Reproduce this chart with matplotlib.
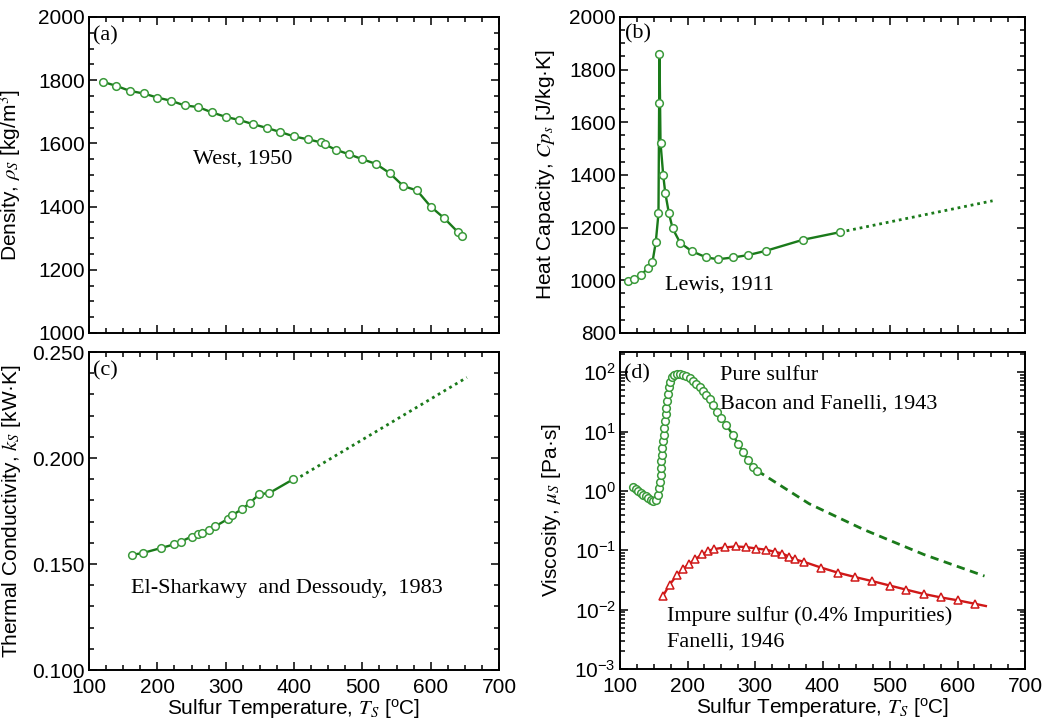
import numpy as np
import matplotlib
matplotlib.use("Agg")
import matplotlib.pyplot as plt
from matplotlib.ticker import MultipleLocator, LogLocator, FuncFormatter, NullFormatter

# ==========================
# 1. Data
# ==========================
# (a) density, West 1950
dens_T = [120, 140, 160, 180, 200, 220, 240, 260, 280, 300, 320, 340, 360, 380, 400,
          420, 440, 445, 461, 480, 500, 520, 540, 560, 580, 600, 620, 640, 646]
dens_rho = [1795, 1782, 1766, 1758, 1745, 1735, 1720, 1715, 1698, 1684, 1674, 1661, 1649,
            1636, 1622, 1613, 1603, 1597, 1580, 1566, 1550, 1535, 1506, 1465, 1451, 1400,
            1363, 1319, 1307]

# (b) heat capacity, Lewis 1911
cp_T = [112, 120, 131, 141, 148, 153, 157, 158, 158.5, 160, 164, 167, 172.5, 178, 189,
        206, 228, 245, 268, 290, 316, 371, 426]
cp_val = [996, 1005, 1020, 1045, 1068, 1145, 1254, 1672, 1861, 1523, 1400, 1333, 1254,
          1197, 1143, 1111, 1087, 1080, 1087, 1096, 1112, 1154, 1183]
cp_ext_T = [426, 652]
cp_ext_val = [1183, 1302]

# (c) thermal conductivity, El-Sharkawy and Dessoudy 1983
k_T = [163, 179, 205, 224, 234, 250, 259, 265, 275, 285, 304, 309, 324, 335, 349, 364, 399]
k_val = [0.1543, 0.1552, 0.1575, 0.1592, 0.1605, 0.1629, 0.1640, 0.1648, 0.1662, 0.1678,
         0.1714, 0.1729, 0.1759, 0.1787, 0.1829, 0.1835, 0.1900]
k_ext_T = [401, 653]
k_ext_val = [0.1896, 0.2380]

# (d) viscosity, pure sulfur (Bacon and Fanelli 1943)
pure_T = [119.7, 123.7, 127.1, 130.6, 134.5, 138.5, 141.9, 145.4, 149.3, 153.3, 156.7,
          158.2, 159.2, 160.2, 160.6, 161.1, 161.6, 162.6, 163.6, 164.6, 165.6, 166.6,
          167.6, 168.6, 169.5, 170.5, 172.0, 174.0, 176.4, 179.9, 183.8, 188.7, 193.6,
          198.5, 203.5, 208.4, 213.3, 218.2, 223.2, 228.1, 233.1, 238.0, 243.9, 250.3,
          257.7, 267.5, 274.9, 282.3, 289.7, 297.1, 303.0]
pure_mu = [1.17, 1.06, 0.98, 0.93, 0.87, 0.81, 0.76, 0.71, 0.68, 0.71, 0.85,
           1.10, 1.43, 1.86, 2.41, 3.13, 4.07, 5.27, 6.85, 8.91, 11.6, 15.0,
           19.5, 25.4, 33.0, 42.9, 55.5, 69.5, 82.2, 90.0, 93.0, 93.0, 91.0,
           85.5, 79.1, 72.3, 63.4, 55.5, 48.8, 41.7, 35.2, 27.9, 21.4, 17.1,
           12.9, 8.59, 6.27, 4.46, 3.26, 2.51, 2.20]
pure_ext_T = [303, 380, 460, 550, 640]
pure_ext_mu = [2.20, 0.61, 0.226, 0.085, 0.0368]

# (d) viscosity, impure sulfur (Fanelli 1946)
imp_T = [164, 173.5, 184.3, 193, 202.6, 211.4, 221.8, 230.7, 239.1, 255.3, 271.6, 287.4,
         302.2, 317.0, 329.3, 340.7, 350.5, 358.9, 372.7, 398.3, 423.0, 448.6, 473.8,
         499.4, 524.1, 549.7, 574.9, 600.5, 625.6]
imp_mu = [0.0173, 0.0263, 0.038, 0.048, 0.059, 0.071, 0.085, 0.098, 0.1045, 0.1117, 0.116,
          0.113, 0.107, 0.102, 0.094, 0.088, 0.078, 0.0705, 0.0637, 0.0509, 0.0419, 0.0353,
          0.0302, 0.0255, 0.0217, 0.0184, 0.0161, 0.01435, 0.01256]
imp_end_T = 642
imp_end_mu = 0.0115

# ==========================
# 2. Style
# ==========================
plt.rcParams["font.family"] = ["Liberation Sans", "DejaVu Sans"]
plt.rcParams["mathtext.fontset"] = "stix"
plt.rcParams["axes.linewidth"] = 1.4

GREEN = "#1a7a1a"
GREEN_M = "#3a9a3a"
RED = "#d01818"
SERIF = ["Liberation Serif", "DejaVu Serif"]
TICK_FS = 15
LABEL_FS = 15
NOTE_FS = 16
PANEL_FS = 16

fig = plt.figure(figsize=(10.48, 7.25), dpi=100)
W, H = 1048, 725


def add_ax(left, top, right, bottom):
    return fig.add_axes([left / W, 1 - bottom / H, (right - left) / W, (bottom - top) / H])


ax_a = add_ax(89, 17, 499, 333)
ax_b = add_ax(620, 17, 1025, 333)
ax_c = add_ax(89, 352, 499, 670)
ax_d = add_ax(620, 352, 1025, 669)

for ax in (ax_a, ax_b, ax_c, ax_d):
    ax.set_xlim(100, 700)
    ax.xaxis.set_major_locator(MultipleLocator(100))
    ax.xaxis.set_minor_locator(MultipleLocator(25))
    ax.tick_params(which="both", direction="in", top=True, right=True,
                   labelsize=TICK_FS, width=1.1)
    ax.tick_params(which="major", length=6)
    ax.tick_params(which="minor", length=3.5)
    ax.tick_params(axis="x", pad=6)
    ax.tick_params(axis="y", pad=3)

line_kw = dict(color=GREEN, lw=1.7, marker="o", markersize=5.5, mfc="white",
               mec=GREEN_M, mew=1.1)
dot_ls = (0, (1, 1.4))
xlab = r"Sulfur Temperature, $T_S$ [$\mathregular{^o}$C]"

# ==========================
# 3. (a) Density
# ==========================
ax_a.plot(dens_T, dens_rho, **line_kw)
ax_a.set_ylim(1000, 2000)
ax_a.yaxis.set_major_locator(MultipleLocator(200))
ax_a.yaxis.set_minor_locator(MultipleLocator(50))
ax_a.tick_params(labelbottom=False)
ax_a.set_ylabel(r"Density, $\rho_S$ [kg/m$^3$]", fontsize=LABEL_FS)
ax_a.yaxis.set_label_coords(-0.16, 0.5)
ax_a.text(252, 1550, "West, 1950", family=SERIF, fontsize=NOTE_FS, va="center")
ax_a.text(106, 1940, "(a)", family=SERIF, fontsize=PANEL_FS, va="center")

# ==========================
# 4. (b) Heat capacity
# ==========================
ax_b.plot(cp_ext_T, cp_ext_val, color=GREEN, lw=2, ls=dot_ls)
ax_b.plot(cp_T, cp_val, **line_kw)
ax_b.set_ylim(800, 2000)
ax_b.yaxis.set_major_locator(MultipleLocator(200))
ax_b.yaxis.set_minor_locator(MultipleLocator(50))
ax_b.tick_params(labelbottom=False)
ax_b.set_ylabel(r"Heat Capacity, $Cp_s$ [J/kg·K]", fontsize=LABEL_FS)
ax_b.yaxis.set_label_coords(-0.156, 0.5)
ax_b.text(166, 983, "Lewis, 1911", family=SERIF, fontsize=NOTE_FS, va="center")
ax_b.text(107, 1935, "(b)", family=SERIF, fontsize=PANEL_FS, va="center")

# ==========================
# 5. (c) Thermal conductivity
# ==========================
ax_c.plot(k_ext_T, k_ext_val, color=GREEN, lw=2, ls=dot_ls)
ax_c.plot(k_T, k_val, **line_kw)
ax_c.set_ylim(0.100, 0.250)
ax_c.yaxis.set_major_locator(MultipleLocator(0.05))
ax_c.yaxis.set_minor_locator(MultipleLocator(0.01))
ax_c.yaxis.set_major_formatter(FuncFormatter(lambda v, p: f"{v:.3f}"))
ax_c.set_ylabel(r"Thermal Conductivity, $k_S$ [kW·K]", fontsize=LABEL_FS)
ax_c.yaxis.set_label_coords(-0.16, 0.5)
ax_c.set_xlabel(xlab, fontsize=LABEL_FS)
ax_c.xaxis.set_label_coords(0.5, -0.085)
ax_c.text(161, 0.1384, "El-Sharkawy  and Dessoudy,  1983", family=SERIF,
          fontsize=NOTE_FS, va="center")
ax_c.text(106, 0.2413, "(c)", family=SERIF, fontsize=PANEL_FS, va="center")

# ==========================
# 6. (d) Viscosity
# ==========================
ax_d.set_yscale("log")
ax_d.plot(pure_ext_T, pure_ext_mu, color=GREEN, lw=2, ls=(0, (3, 2)))
ax_d.plot(pure_T, pure_mu, **line_kw)
ax_d.plot(imp_T + [imp_end_T], imp_mu + [imp_end_mu], color=RED, lw=1.7)
ax_d.plot(imp_T, imp_mu, ls="none", marker="^", markersize=5.5, mfc="white",
          mec=RED, mew=1.1)
ax_d.set_ylim(1e-3, 10 ** 2.34)
ax_d.yaxis.set_major_locator(LogLocator(base=10, numticks=10))
ax_d.yaxis.set_minor_locator(LogLocator(base=10, subs=np.arange(2, 10), numticks=10))
ax_d.yaxis.set_minor_formatter(NullFormatter())
ax_d.yaxis.set_major_formatter(
    FuncFormatter(lambda v, p: r"$\mathregular{10^{%d}}$" % round(np.log10(v))))
ax_d.set_ylabel(r"Viscosity, $\mu_S$ [Pa·s]", fontsize=LABEL_FS)
ax_d.yaxis.set_label_coords(-0.141, 0.5)
ax_d.set_xlabel(xlab, fontsize=LABEL_FS)
ax_d.xaxis.set_label_coords(0.5, -0.085)
ax_d.text(248, 10 ** 1.94, "Pure sulfur", family=SERIF, fontsize=NOTE_FS, va="center")
ax_d.text(248, 10 ** 1.46, "Bacon and Fanelli, 1943", family=SERIF,
          fontsize=NOTE_FS, va="center")
ax_d.text(169, 10 ** -2.10, "Impure sulfur (0.4% Impurities)", family=SERIF,
          fontsize=NOTE_FS, va="center")
ax_d.text(169, 10 ** -2.545, "Fanelli, 1946", family=SERIF, fontsize=NOTE_FS, va="center")
ax_d.text(106, 10 ** 1.97, "(d)", family=SERIF, fontsize=PANEL_FS, va="center")

fig.savefig("out.png", dpi=100)
